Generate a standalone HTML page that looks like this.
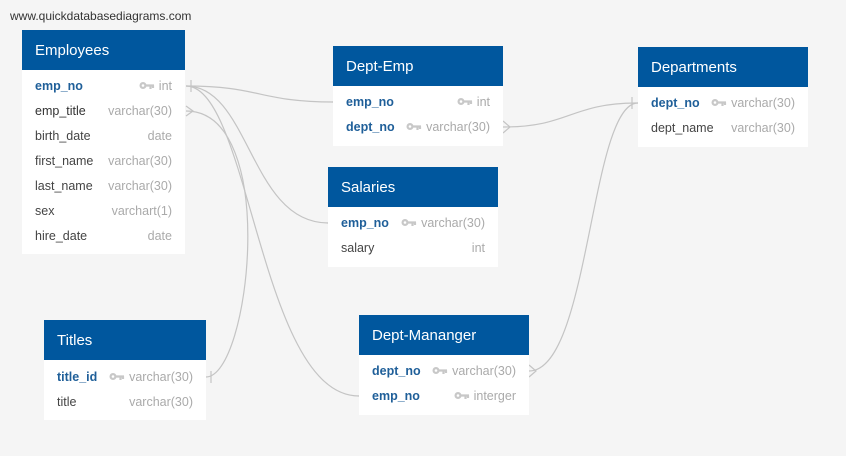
<!DOCTYPE html>
<html><head><meta charset="utf-8"><style>
body{margin:0;width:846px;height:456px;background:#f5f5f5;font-family:"Liberation Sans",Arial,sans-serif;position:relative;overflow:hidden}
.url{position:absolute;left:10px;top:9px;font-size:12px;color:#333}
.t{position:absolute;background:#fff}
.h{background:#00579e;color:#fff;font-size:15px;height:40px;line-height:42px;padding-left:13px}
.r{height:25px;line-height:25px;font-size:12.5px;color:#444;position:relative;padding-left:13px}
.r.pk{color:#1f5f99;font-weight:bold}
.ty{position:absolute;right:13px;top:0;color:#aaa;font-weight:normal}
.k{display:inline-block;vertical-align:middle;margin-right:4px;margin-top:-2px}
svg.lines{position:absolute;left:0;top:0}
</style></head><body>
<div class="url">www.quickdatabasediagrams.com</div>
<svg class="lines" width="846" height="456" fill="none" stroke="#c4c4c4" stroke-width="1.2">
<path d="M186 86 C260 86 260 102 333 102"/>
<path d="M186 86 C250 86 250 223 328 223"/>
<path d="M186 86 C250 86 260 396 359 396"/>
<path d="M186 111 C280 111 250 377 206 377"/>
<path d="M503 127 C570 127 570 103 638 103"/>
<path d="M529 371 C590 371 590 103 638 103"/>
<path d="M191 80 V92"/><path d="M211 371 V383"/><path d="M632 97 V109"/>
<path d="M186 106 L193 111 L186 116"/>
<path d="M340 96 L333 102 L340 108"/><path d="M335 217 L328 223 L335 229"/><path d="M366 390 L359 396 L366 402"/>
<path d="M503 121 L510 127 L503 133"/><path d="M529 365 L536 371 L529 377"/>
</svg>
<svg width="0" height="0" style="position:absolute"><defs><g id="key"><circle cx="4" cy="4.5" r="3.5" fill="#c8c8c8"/><circle cx="4" cy="4.5" r="1.3" fill="#fff"/><path d="M7 4.5 H15 M11.5 4.5 V8 M14 4.5 V7" stroke="#c8c8c8" stroke-width="2.2"/></g></defs></svg>

<div class="t" style="left:22px;top:30px;width:163px;height:224px">
<div class="h">Employees</div>
<div style="height:4px"></div>
<div class="r pk">emp_no<span class="ty"><svg class="k" width="16" height="9"><use href="#key"/></svg>int</span></div>
<div class="r" style="color:#333">emp_title<span class="ty">varchar(30)</span></div>
<div class="r">birth_date<span class="ty">date</span></div>
<div class="r">first_name<span class="ty">varchar(30)</span></div>
<div class="r">last_name<span class="ty">varchar(30)</span></div>
<div class="r">sex<span class="ty">varchart(1)</span></div>
<div class="r">hire_date<span class="ty">date</span></div>
</div>

<div class="t" style="left:333px;top:46px;width:170px;height:100px">
<div class="h">Dept-Emp</div>
<div style="height:4px"></div>
<div class="r pk">emp_no<span class="ty"><svg class="k" width="16" height="9"><use href="#key"/></svg>int</span></div>
<div class="r pk">dept_no<span class="ty"><svg class="k" width="16" height="9"><use href="#key"/></svg>varchar(30)</span></div>
</div>

<div class="t" style="left:638px;top:47px;width:170px;height:100px">
<div class="h">Departments</div>
<div style="height:4px"></div>
<div class="r pk">dept_no<span class="ty"><svg class="k" width="16" height="9"><use href="#key"/></svg>varchar(30)</span></div>
<div class="r">dept_name<span class="ty">varchar(30)</span></div>
</div>

<div class="t" style="left:328px;top:167px;width:170px;height:100px">
<div class="h">Salaries</div>
<div style="height:4px"></div>
<div class="r pk">emp_no<span class="ty"><svg class="k" width="16" height="9"><use href="#key"/></svg>varchar(30)</span></div>
<div class="r">salary<span class="ty">int</span></div>
</div>

<div class="t" style="left:44px;top:320px;width:162px;height:100px">
<div class="h">Titles</div>
<div style="height:5px"></div>
<div class="r pk">title_id<span class="ty"><svg class="k" width="16" height="9"><use href="#key"/></svg>varchar(30)</span></div>
<div class="r">title<span class="ty">varchar(30)</span></div>
</div>

<div class="t" style="left:359px;top:315px;width:170px;height:100px">
<div class="h">Dept-Mananger</div>
<div style="height:4px"></div>
<div class="r pk">dept_no<span class="ty"><svg class="k" width="16" height="9"><use href="#key"/></svg>varchar(30)</span></div>
<div class="r pk">emp_no<span class="ty"><svg class="k" width="16" height="9"><use href="#key"/></svg>interger</span></div>
</div>
</body></html>
